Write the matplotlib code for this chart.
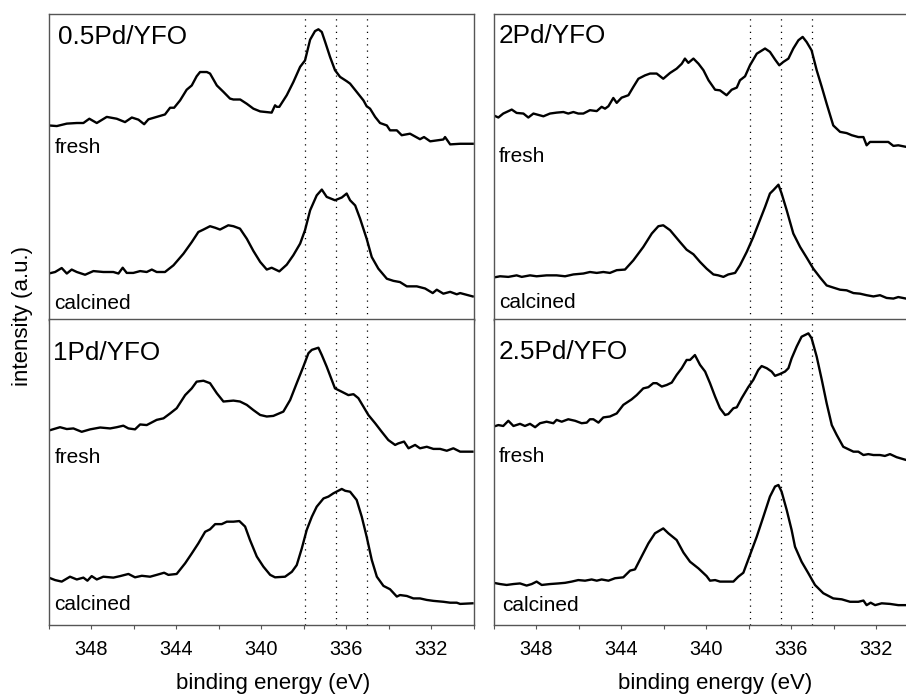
import matplotlib.pyplot as plt
from matplotlib.ticker import MultipleLocator

plt.rcParams['font.family'] = ['Liberation Sans', 'DejaVu Sans']

# binding energy (eV) and intensity (a.u., 0-100 per panel)
# 0.5Pd/YFO
e_05_fresh = [350.00, 349.62, 349.15, 348.68, 348.37, 348.09, 347.74, 347.27, 346.80, 346.41,
              346.09, 345.78, 345.51, 345.31, 344.92, 344.53, 344.29, 344.10, 343.82, 343.51,
              343.27, 343.04, 342.88, 342.56, 342.41, 342.09, 341.78, 341.47, 341.31, 340.99,
              340.68, 340.37, 340.05, 339.51, 339.35, 339.27, 339.15, 338.80, 338.49, 338.17,
              337.94, 337.70, 337.47, 337.31, 337.15, 336.99, 336.76, 336.53, 336.29, 335.98,
              335.82, 335.51, 335.19, 335.04, 334.88, 334.64, 334.41, 334.09, 333.94, 333.62,
              333.39, 333.00, 332.53, 332.34, 332.05, 331.74, 331.43, 331.35, 331.11, 330.64, 330.05]
i_05_fresh = [63.6, 63.4, 64.2, 64.4, 64.4, 65.8, 64.4, 66.4, 65.8, 64.7,
              66.2, 65.5, 64.0, 65.6, 66.4, 67.2, 69.4, 69.4, 71.8, 75.3,
              76.7, 79.7, 81.1, 81.1, 80.6, 76.7, 74.6, 72.4, 72.1, 72.1,
              70.7, 69.1, 68.2, 67.8, 70.2, 69.7, 69.7, 73.5, 77.8, 82.8,
              84.9, 91.7, 94.5, 95.1, 94.2, 90.9, 86.0, 81.7, 79.5, 78.1,
              77.3, 74.6, 71.8, 69.9, 69.1, 66.4, 64.4, 63.6, 62.0, 62.0,
              60.4, 60.9, 59.1, 59.8, 58.4, 58.7, 59.0, 59.8, 57.4, 57.6, 57.6]
e_05_calc = [350.00, 349.70, 349.39, 349.15, 348.92, 348.68, 348.29, 347.90, 347.43, 346.96,
             346.72, 346.52, 346.33, 346.02, 345.70, 345.39, 345.15, 344.92, 344.53, 344.13,
             343.66, 343.27, 342.96, 342.72, 342.41, 342.17, 341.94, 341.55, 341.31, 341.00,
             340.68, 340.37, 340.05, 339.74, 339.51, 339.15, 338.80, 338.49, 338.17, 337.94,
             337.70, 337.39, 337.15, 336.92, 336.53, 336.21, 335.98, 335.82, 335.58, 335.35,
             335.04, 334.80, 334.49, 334.09, 333.78, 333.47, 333.15, 332.68, 332.29, 331.93,
             331.74, 331.43, 331.11, 330.80, 330.64, 330.05]
i_05_calc = [15.1, 15.6, 16.9, 15.1, 16.4, 15.6, 14.7, 15.9, 15.6, 15.6,
             15.1, 17.0, 15.3, 15.3, 15.9, 15.6, 16.4, 15.6, 15.6, 17.8,
             21.6, 25.4, 28.7, 29.5, 30.6, 30.1, 29.5, 30.9, 30.6, 29.8,
             26.5, 22.5, 18.9, 16.4, 17.0, 15.8, 18.0, 21.1, 24.9, 29.3,
             35.8, 40.7, 42.6, 40.2, 39.1, 40.0, 41.3, 39.1, 37.4, 33.1,
             26.5, 20.5, 16.7, 13.4, 12.7, 12.3, 10.9, 10.9, 10.2, 8.7,
             9.8, 8.5, 9.1, 8.3, 8.7, 7.6]

# 1Pd/YFO
e_1_fresh = [350.00, 349.47, 349.15, 348.84, 348.45, 348.05, 347.58, 347.11, 346.80, 346.49,
             346.25, 345.94, 345.70, 345.39, 344.92, 344.60, 344.29, 343.98, 343.58, 343.27,
             343.04, 342.72, 342.41, 342.09, 341.78, 341.31, 341.00, 340.68, 340.37, 340.05,
             339.74, 339.43, 338.96, 338.64, 338.33, 338.02, 337.78, 337.62, 337.31, 337.15,
             336.92, 336.53, 336.21, 335.90, 335.66, 335.43, 335.19, 334.96, 334.64, 334.33,
             334.02, 333.70, 333.55, 333.28, 333.07, 332.76, 332.53, 332.21, 331.90, 331.58,
             331.27, 330.96, 330.64, 330.06]
i_1_fresh = [63.6, 64.7, 64.1, 64.3, 63.2, 64.0, 64.6, 64.3, 64.7, 65.2,
             64.3, 64.0, 65.6, 65.4, 67.1, 67.6, 69.2, 70.9, 75.2, 77.4,
             79.6, 79.9, 79.1, 75.8, 73.1, 73.4, 73.1, 72.0, 70.3, 68.7,
             68.2, 68.4, 69.8, 73.6, 79.1, 84.5, 88.9, 90.0, 90.7, 88.3,
             84.5, 77.4, 76.3, 75.2, 75.5, 74.2, 71.4, 68.7, 66.0, 63.2,
             60.5, 58.9, 59.4, 60.0, 57.8, 58.9, 57.8, 58.3, 57.6, 57.6,
             57.0, 57.8, 56.7, 56.7]
e_1_calc = [350.00, 349.70, 349.39, 349.00, 348.68, 348.37, 348.18, 347.98, 347.74, 347.43,
            346.96, 346.64, 346.25, 345.94, 345.62, 345.23, 344.92, 344.57, 344.37, 343.98,
            343.58, 343.27, 342.96, 342.64, 342.41, 342.17, 341.86, 341.62, 341.31, 341.03,
            340.76, 340.53, 340.21, 339.90, 339.58, 339.35, 338.88, 338.56, 338.33, 338.09,
            337.86, 337.62, 337.39, 337.07, 336.84, 336.60, 336.21, 336.05, 335.82, 335.51,
            335.27, 335.04, 334.80, 334.56, 334.25, 333.94, 333.62, 333.47, 333.15, 332.84,
            332.53, 332.21, 331.90, 331.43, 331.11, 330.80, 330.64, 330.06]
i_1_calc = [15.5, 14.7, 14.2, 15.8, 14.9, 15.5, 14.5, 16.0, 14.9, 15.8,
            15.5, 16.0, 16.7, 15.6, 16.1, 15.8, 16.4, 17.1, 16.4, 16.7,
            20.2, 23.4, 26.7, 30.5, 31.3, 33.0, 33.0, 33.8, 33.8, 34.0,
            32.2, 27.8, 22.4, 19.1, 16.4, 15.6, 15.8, 17.4, 19.6, 25.1,
            31.1, 35.4, 38.7, 41.4, 42.0, 43.1, 44.5, 43.9, 43.6, 40.9,
            35.4, 28.9, 21.3, 15.8, 12.8, 11.7, 9.3, 9.8, 9.5, 8.7,
            8.7, 8.2, 7.9, 7.6, 7.3, 7.3, 6.9, 7.1]

# 2Pd/YFO
e_2_fresh = [350.00, 349.78, 349.55, 349.15, 348.92, 348.60, 348.37, 348.13, 347.66, 347.35,
             347.04, 346.72, 346.49, 346.25, 346.02, 345.78, 345.47, 345.15, 344.92, 344.76,
             344.60, 344.37, 344.21, 343.98, 343.66, 343.43, 343.19, 342.88, 342.64, 342.33,
             342.02, 341.70, 341.39, 341.15, 341.00, 340.84, 340.60, 340.36, 340.13, 339.89,
             339.58, 339.35, 339.04, 338.80, 338.56, 338.41, 338.17, 337.94, 337.62, 337.23,
             337.00, 336.76, 336.56, 336.37, 336.13, 335.90, 335.66, 335.46, 335.27, 335.04,
             334.80, 334.56, 334.33, 334.02, 333.70, 333.39, 333.15, 332.84, 332.60, 332.45,
             332.29, 331.82, 331.43, 331.19, 330.96, 330.60, 330.30]
i_2_fresh = [66.9, 66.2, 67.5, 68.8, 67.7, 67.5, 66.2, 67.5, 66.6, 67.5,
             67.8, 68.0, 67.5, 68.0, 67.5, 67.5, 68.6, 68.3, 69.7, 69.1,
             69.9, 72.6, 71.0, 72.7, 73.5, 76.2, 78.9, 80.0, 80.6, 80.6,
             78.9, 80.8, 82.2, 83.8, 85.5, 84.1, 85.5, 83.8, 81.7, 78.4,
             75.3, 75.1, 73.5, 75.3, 76.0, 78.4, 79.7, 83.3, 87.1, 88.8,
             87.7, 85.2, 83.3, 84.4, 85.5, 88.8, 91.5, 92.6, 90.9, 88.2,
             81.7, 76.2, 70.7, 63.6, 61.5, 61.1, 60.4, 59.8, 59.8, 57.1,
             58.2, 58.2, 58.2, 56.9, 57.1, 56.6, 56.6]
e_2_calc = [350.00, 349.70, 349.31, 348.92, 348.68, 348.29, 347.98, 347.51, 347.04, 346.64,
            346.25, 345.78, 345.47, 345.15, 344.84, 344.53, 344.21, 343.82, 343.43, 342.96,
            342.56, 342.25, 342.02, 341.70, 341.23, 340.92, 340.60, 340.29, 339.98, 339.66,
            339.43, 339.19, 338.96, 338.64, 338.41, 338.09, 337.78, 337.55, 337.23, 337.00,
            336.84, 336.60, 336.45, 336.21, 335.90, 335.58, 335.27, 334.96, 334.64, 334.33,
            334.02, 333.70, 333.39, 333.07, 332.76, 332.45, 332.13, 331.82, 331.51, 331.19,
            330.96, 330.60, 330.30]
i_2_calc = [13.8, 14.2, 14.0, 14.5, 14.0, 14.5, 14.2, 14.5, 14.5, 14.2,
            14.8, 15.1, 15.6, 15.3, 15.6, 15.3, 16.2, 16.4, 19.4, 23.8,
            28.2, 30.6, 30.9, 29.3, 25.4, 22.9, 21.4, 18.9, 16.7, 14.8,
            14.5, 14.0, 14.8, 15.3, 17.8, 22.2, 27.1, 31.2, 36.9, 41.3,
            42.4, 44.2, 41.3, 35.8, 28.2, 23.8, 20.3, 16.7, 13.8, 11.2,
            10.5, 9.8, 9.6, 8.7, 8.5, 8.0, 7.6, 8.0, 7.1, 6.9,
            7.4, 6.9, 6.9]

# 2.5Pd/YFO
e_25_fresh = [350.00, 349.78, 349.55, 349.31, 349.07, 348.76, 348.53, 348.29, 348.05, 347.82,
              347.51, 347.19, 347.04, 346.80, 346.49, 346.17, 345.86, 345.62, 345.47, 345.31,
              345.07, 344.84, 344.53, 344.21, 343.90, 343.51, 343.27, 342.96, 342.72, 342.49,
              342.33, 342.09, 341.86, 341.62, 341.39, 341.15, 340.92, 340.76, 340.53, 340.29,
              340.05, 339.82, 339.58, 339.35, 339.11, 338.96, 338.72, 338.56, 338.33, 338.02,
              337.78, 337.55, 337.39, 337.15, 336.92, 336.76, 336.53, 336.29, 336.13, 335.98,
              335.74, 335.51, 335.19, 335.04, 334.80, 334.56, 334.33, 334.09, 333.86, 333.55,
              333.31, 333.07, 332.84, 332.60, 332.37, 332.13, 331.82, 331.59, 331.35, 331.04,
              330.60, 330.30]
i_25_fresh = [64.9, 65.4, 65.1, 66.8, 65.1, 65.8, 65.1, 65.8, 64.7, 66.0,
              66.5, 66.0, 67.1, 66.5, 67.3, 66.8, 66.0, 66.2, 67.3, 67.3,
              66.2, 67.9, 68.2, 69.2, 72.0, 73.8, 75.2, 77.4, 77.8, 79.1,
              79.1, 78.0, 78.5, 79.3, 81.8, 84.0, 86.7, 86.7, 88.3, 85.1,
              82.9, 79.1, 74.7, 70.9, 68.7, 69.0, 70.9, 71.2, 74.2, 77.8,
              80.2, 83.4, 84.7, 84.0, 82.9, 81.5, 82.1, 82.9, 84.0, 87.2,
              91.1, 94.3, 95.4, 93.8, 87.8, 80.2, 72.5, 65.4, 62.2, 58.3,
              57.5, 56.7, 56.7, 55.6, 55.9, 55.6, 55.6, 55.3, 55.9, 54.9,
              54.0, 54.0]
e_25_calc = [350.00, 349.70, 349.39, 349.07, 348.76, 348.45, 348.21, 347.98, 347.74, 347.35,
             346.96, 346.64, 346.33, 346.02, 345.70, 345.39, 345.15, 344.92, 344.60, 344.29,
             343.90, 343.58, 343.35, 343.04, 342.72, 342.41, 342.02, 341.78, 341.39, 341.07,
             340.76, 340.36, 339.98, 339.82, 339.58, 339.35, 338.72, 338.49, 338.25, 337.94,
             337.62, 337.31, 337.00, 336.76, 336.60, 336.45, 336.21, 335.98, 335.82, 335.51,
             335.19, 334.88, 334.49, 334.02, 333.62, 333.23, 332.84, 332.60, 332.45, 332.26,
             332.05, 331.74, 331.35, 330.96, 330.60, 330.30]
i_25_calc = [13.8, 13.4, 13.1, 13.4, 13.6, 12.9, 13.4, 14.2, 13.1, 13.4,
             13.6, 13.8, 14.2, 14.7, 14.5, 14.9, 14.5, 14.9, 14.5, 15.3,
             15.6, 17.8, 18.2, 22.4, 26.7, 30.0, 31.6, 30.0, 27.8, 23.7,
             20.7, 18.5, 16.0, 14.5, 14.7, 14.2, 14.2, 15.8, 17.1, 22.9,
             28.9, 35.4, 42.0, 45.3, 45.8, 43.6, 37.6, 31.1, 25.6, 20.7,
             16.9, 13.1, 10.4, 8.7, 8.4, 7.6, 7.6, 8.0, 6.5, 7.3,
             6.5, 7.1, 6.9, 6.5, 6.5, 6.5]

samples = ['0.5Pd/YFO', '1Pd/YFO', '2Pd/YFO', '2.5Pd/YFO']
ref_lines = [337.95, 336.5, 335.0]

fig = plt.figure(figsize=(9.06, 6.95), dpi=100)
w = 0.4691
ax_tl = fig.add_axes([0.0538, 0.5401, w, 0.4393])
ax_bl = fig.add_axes([0.0538, 0.1007, w, 0.4399])
ax_tr = fig.add_axes([0.5449, 0.5401, w, 0.4393])
ax_br = fig.add_axes([0.5449, 0.1007, w, 0.4399])

# (axes, sample, fresh E, fresh I, calcined E, calcined I, name x, name y, fresh y, calcined x, calcined y)
panels = [
    (ax_tl, samples[0], e_05_fresh, i_05_fresh, e_05_calc, i_05_calc, 0.022, 0.926, 0.565, 0.013, 0.053),
    (ax_bl, samples[1], e_1_fresh, i_1_fresh, e_1_calc, i_1_calc, 0.011, 0.889, 0.549, 0.013, 0.066),
    (ax_tr, samples[2], e_2_fresh, i_2_fresh, e_2_calc, i_2_calc, 0.012, 0.928, 0.534, 0.012, 0.057),
    (ax_br, samples[3], e_25_fresh, i_25_fresh, e_25_calc, i_25_calc, 0.012, 0.894, 0.551, 0.021, 0.063),
]

for ax, name, ef, yf, ec, yc, x_name, y_name, y_fresh, x_calc, y_calc in panels:
    ax.plot(ef, yf, color='black', lw=1.7)
    ax.plot(ec, yc, color='black', lw=1.7)
    for e in ref_lines:
        ax.axvline(e, color='black', lw=0.9, ls=(0, (1, 4)))
    ax.set_xlim(350, 330)
    ax.set_ylim(0, 100)
    ax.xaxis.set_major_locator(MultipleLocator(4))
    ax.xaxis.set_minor_locator(MultipleLocator(2))
    ax.tick_params(axis='x', which='both', direction='out', length=3, width=0.8,
                   color='#555555', labelsize=14.4, pad=8)
    ax.set_yticks([])
    for sp in ax.spines.values():
        sp.set_color('#555555')
        sp.set_linewidth(1.0)
    ax.text(x_name, y_name, name, transform=ax.transAxes, fontsize=18.8, va='center', ha='left')
    ax.text(0.013, y_fresh, 'fresh', transform=ax.transAxes, fontsize=15, va='center', ha='left')
    ax.text(x_calc, y_calc, 'calcined', transform=ax.transAxes, fontsize=15, va='center', ha='left')

for ax in (ax_tl, ax_tr):
    ax.tick_params(axis='x', which='both', labelbottom=False)

ax_bl.set_xlabel('binding energy (eV)', fontsize=16, va='center')
ax_br.set_xlabel('binding energy (eV)', fontsize=16, va='center')
ax_bl.xaxis.set_label_coords(0.527, -0.19)
ax_br.xaxis.set_label_coords(0.52, -0.19)

fig.text(0.025, 0.545, 'intensity (a.u.)', rotation=90, fontsize=16, va='center', ha='center')

fig.savefig('out.png', dpi=100)
